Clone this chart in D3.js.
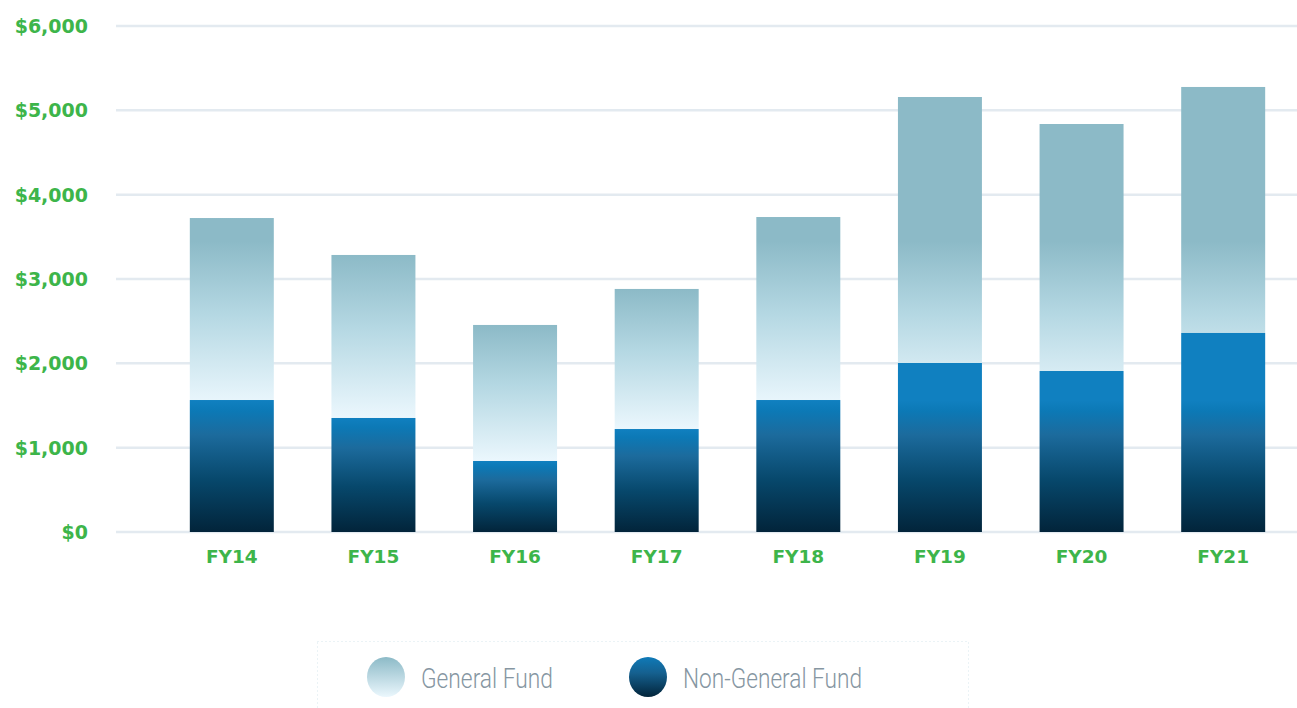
<!DOCTYPE html>
<html>
<head>
<meta charset="utf-8">
<script src="https://cdn.jsdelivr.net/npm/d3@7"></script>
<style>
	body { margin: 0; background: #fff; }
	svg { display: block; }
	.tick-label { font-family: "DejaVu Sans", sans-serif; font-weight: bold; fill: #3db54a; }
	.legend-label { font-family: Roboto, sans-serif; font-weight: 300; fill: #8696a2; }
</style>
</head>
<body>
<svg id="chart" width="1297" height="708"></svg>
<script>
	// data (millions)
	const years = ["FY14", "FY15", "FY16", "FY17", "FY18", "FY19", "FY20", "FY21"];
	const nonGeneralFund = [1565, 1352, 842, 1221, 1565, 2004, 1909, 2360];
	const generalFund = [2158, 1933, 1613, 1661, 2170, 3154, 2929, 2917];
	const yTicks = [0, 1000, 2000, 3000, 4000, 5000, 6000];
	const seriesNames = ["General Fund", "Non-General Fund"];

	const svg = d3.select('#chart');
	const defs = svg.append('defs');

	const x = d3.scaleBand().domain(years).range([161, 1294]).paddingInner(0.407).paddingOuter(0.2035);
	const y = d3.scaleLinear().domain([0, 6000]).range([532, 26]);

	// grid lines
	svg.append('g').selectAll('line')
		.data(yTicks)
		.enter().append('line')
		.attr('x1', 116).attr('x2', 1297)
		.attr('y1', function(d) { return y(d) }).attr('y2', function(d) { return y(d) })
		.attr('stroke', '#e3eaf0').attr('stroke-width', 2.5);

	// y labels
	svg.append('g').selectAll('text')
		.data(yTicks)
		.enter().append('text')
		.attr('class', 'tick-label')
		.attr('x', 88).attr('y', function(d) { return y(d) + 7 })
		.attr('text-anchor', 'end')
		.style('font-size', '19px')
		.text(function(d) { return d3.format("$,")(d) });

	// x labels
	svg.append('g').selectAll('text')
		.data(years)
		.enter().append('text')
		.attr('class', 'tick-label')
		.attr('x', function(d) { return x(d) + x.bandwidth() / 2 })
		.attr('y', 563)
		.attr('text-anchor', 'middle')
		.style('font-size', '18.5px')
		.text(function(d) { return d });

	const rows = years.map(function(yr, i) {
		return { year: yr, ngf: nonGeneralFund[i], gf: generalFund[i], i: i };
	});

	// per-bar gradients, anchored in page space so the tall bars keep a flat top
	function gradient(id, y1, y2, stops) {
		const g = defs.append('linearGradient')
			.attr('id', id)
			.attr('gradientUnits', 'userSpaceOnUse')
			.attr('x1', 0).attr('x2', 0).attr('y1', y1).attr('y2', y2);
		stops.forEach(function(s) {
			g.append('stop').attr('offset', s[0]).attr('stop-color', s[1]);
		});
	}

	rows.forEach(function(d) {
		const top = y(d.ngf + d.gf), mid = y(d.ngf);
		gradient('gf' + d.i, Math.max(top, y(3450)), Math.max(mid, y(1500)),
			[[0, '#8cbac7'], [0.45, '#b5d8e3'], [1, '#ebf7fd']]);
		gradient('ngf' + d.i, Math.max(mid, y(1560)), y(0),
			[[0, '#1080c0'], [0.08, '#0c79b6'], [0.26, '#1c6b9d'], [0.6, '#07486c'], [1, '#02243a']]);
	});

	const bars = svg.append('g').selectAll('g')
		.data(rows)
		.enter().append('g');

	bars.append('rect')
		.attr('x', function(d) { return x(d.year) })
		.attr('width', x.bandwidth())
		.attr('y', function(d) { return y(d.ngf + d.gf) })
		.attr('height', function(d) { return y(d.ngf) - y(d.ngf + d.gf) })
		.attr('fill', function(d) { return 'url(#gf' + d.i + ')' });

	bars.append('rect')
		.attr('x', function(d) { return x(d.year) })
		.attr('width', x.bandwidth())
		.attr('y', function(d) { return y(d.ngf) })
		.attr('height', function(d) { return y(0) - y(d.ngf) })
		.attr('fill', function(d) { return 'url(#ngf' + d.i + ')' });

	// legend
	const legGf = defs.append('linearGradient').attr('id', 'leg-gf').attr('x1', 0).attr('x2', 0).attr('y1', 0).attr('y2', 1);
	legGf.append('stop').attr('offset', 0).attr('stop-color', '#8cbac7');
	legGf.append('stop').attr('offset', 1).attr('stop-color', '#ebf7fd');
	const legNgf = defs.append('linearGradient').attr('id', 'leg-ngf').attr('x1', 0).attr('x2', 0).attr('y1', 0).attr('y2', 1);
	legNgf.append('stop').attr('offset', 0).attr('stop-color', '#0f7ab8');
	legNgf.append('stop').attr('offset', 0.4).attr('stop-color', '#15608f');
	legNgf.append('stop').attr('offset', 1).attr('stop-color', '#02243a');

	svg.append('rect')
		.attr('x', 317.5).attr('y', 641.5).attr('width', 651).attr('height', 80)
		.attr('fill', 'none').attr('stroke', '#d6e6ec').attr('stroke-dasharray', '1,3');

	const legend = [
		{ name: seriesNames[0], cx: 386, tx: 421, w: 132, fill: 'url(#leg-gf)' },
		{ name: seriesNames[1], cx: 648, tx: 683, w: 179, fill: 'url(#leg-ngf)' }
	];
	const li = svg.append('g').selectAll('g').data(legend).enter().append('g');
	li.append('ellipse')
		.attr('cx', function(d) { return d.cx }).attr('cy', 677)
		.attr('rx', 19).attr('ry', 20)
		.attr('fill', function(d) { return d.fill });
	li.append('text')
		.attr('class', 'legend-label')
		.attr('x', function(d) { return d.tx }).attr('y', 688)
		.style('font-size', '28px')
		.attr('textLength', function(d) { return d.w })
		.attr('lengthAdjust', 'spacingAndGlyphs')
		.text(function(d) { return d.name });
</script>
</body>
</html>
